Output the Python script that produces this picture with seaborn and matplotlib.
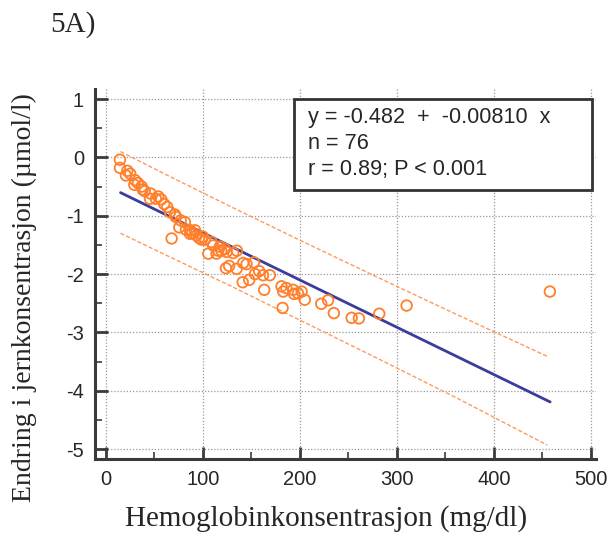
import numpy as np
import pandas as pd
import matplotlib
matplotlib.use("Agg")
import matplotlib.pyplot as plt
import seaborn as sns
from matplotlib.ticker import MultipleLocator
from matplotlib.patches import Rectangle

# hemoglobin concentration (mg/dl) vs change in iron concentration (umol/l)
hb = [14.4, 14.4, 22, 20.6, 29.9, 29.2, 36.8, 37.8, 46, 45.4,
      51.5, 53.9, 63.2, 66, 71.1, 67.7, 81.4, 75.6, 82.5, 86.6,
      91.8, 93.5, 98.6, 102, 105.5, 110.6, 115.8, 117.5, 122.7, 124.4,
      131.2, 123.7, 134.7, 141.5, 152.6, 153.6, 162, 169, 141, 147.7,
      163.2, 181, 182.8, 182.1, 193, 194, 201.7, 205, 222, 229,
      235, 253.3, 260.8, 281.8, 310, 457.7, 114, 119, 108.9, 87,
      77, 60, 40, 57, 25, 127, 145, 186, 198, 96,
      100, 158, 33, 72, 135, 89]
iron = [-0.04, -0.18, -0.23, -0.31, -0.39, -0.47, -0.50, -0.55, -0.62, -0.71,
        -0.71, -0.67, -0.85, -0.94, -0.98, -1.39, -1.11, -1.20, -1.24, -1.31,
        -1.25, -1.34, -1.41, -1.41, -1.65, -1.51, -1.60, -1.53, -1.57, -1.62,
        -1.64, -1.90, -1.91, -1.81, -1.80, -2.00, -2.02, -2.02, -2.14, -2.10,
        -2.27, -2.21, -2.30, -2.58, -2.27, -2.34, -2.30, -2.44, -2.51, -2.45,
        -2.67, -2.75, -2.76, -2.68, -2.54, -2.30, -1.65, -1.60, -1.45, -1.25,
        -1.08, -0.80, -0.58, -0.72, -0.28, -1.86, -1.83, -2.24, -2.33, -1.38,
        -1.36, -1.95, -0.44, -1.02, -1.60, -1.30]

# regression line end points
fit_x = [15, 458]
fit_y = [-0.604, -4.192]

# 95% prediction band
band_x = [15, 60, 130, 200, 280, 360, 455]
band_hi = [0.10, -0.28, -0.855, -1.42, -2.055, -2.68, -3.41]
band_lo = [-1.30, -1.66, -2.215, -2.79, -3.445, -4.11, -4.93]

stats_lines = ["y = -0.482  +  -0.00810  x", "n = 76", "r = 0.89; P < 0.001"]

sns.set_style("ticks")
plt.rcParams["font.family"] = ["Liberation Sans", "DejaVu Sans"]
plt.rcParams["axes.unicode_minus"] = False

fig = plt.figure(figsize=(6.11, 5.42), dpi=100)
ax = fig.add_axes([0.1555, 0.1531, 0.975 - 0.1555, 0.8367 - 0.1531])

pts = pd.DataFrame({"x": hb, "y": iron})
band = pd.DataFrame({"x": band_x, "hi": band_hi, "lo": band_lo})
fit = pd.DataFrame({"x": fit_x, "y": fit_y})

orange = "#ff7f2a"
sns.lineplot(data=band, x="x", y="hi", ax=ax, color="#ff9a5c", lw=1.0,
             linestyle=(0, (3, 1.5)), zorder=3)
sns.lineplot(data=band, x="x", y="lo", ax=ax, color="#ff9a5c", lw=1.0,
             linestyle=(0, (3, 1.5)), zorder=3)
sns.lineplot(data=fit, x="x", y="y", ax=ax, color="#3c3c9c", lw=2.0, zorder=4)
sns.scatterplot(data=pts, x="x", y="y", ax=ax, marker="o", s=58,
                facecolor="none", edgecolor=orange, linewidth=1.3, zorder=5)

ax.set_xlim(-11.3, 505)
ax.set_ylim(-5.17, 1.18)
ax.xaxis.set_minor_locator(MultipleLocator(50))
ax.yaxis.set_minor_locator(MultipleLocator(0.5))
ax.set_xticks(range(0, 501, 100))
ax.set_yticks(range(-5, 2))

ax.grid(True, which="major", linestyle=(0, (1, 1.5)), color="#999999", lw=0.9)
sns.despine(ax=ax)
for s in ["left", "bottom"]:
    ax.spines[s].set_linewidth(2.2)
    ax.spines[s].set_color("#3a3a3a")
ax.tick_params(which="major", direction="in", length=9, width=2, color="#3a3a3a",
               labelsize=14.5, pad=8)
ax.tick_params(which="minor", direction="in", length=5, width=1.2, color="#3a3a3a")

ax.set_xlabel("Hemoglobinkonsentrasjon (mg/dl)", family="Liberation Serif",
              fontsize=21)
ax.xaxis.set_label_coords(0.461, -0.125)
ax.set_ylabel("Endring i jernkonsentrasjon (\u00b5mol/l)", family="Liberation Serif",
              fontsize=20)
ax.yaxis.set_label_coords(-0.115, 0.435)

fig.text(50 / 611, 1 - 25 / 542, "5A)", family="Liberation Serif", fontsize=21,
         va="center", ha="left")

# statistics box
box = Rectangle((294 / 611, 1 - 190 / 542), (592 - 294) / 611, (190 - 99) / 542,
                transform=fig.transFigure, facecolor="white", edgecolor="#333333",
                lw=2, zorder=10, clip_on=False)
ax.add_patch(box)
for i, line in enumerate(stats_lines):
    ax.text(308 / 611, 1 - (118 + 25.5 * i) / 542, line, transform=fig.transFigure,
            fontsize=15.6, va="center", ha="left", zorder=11)

fig.savefig("out.png", dpi=100)
